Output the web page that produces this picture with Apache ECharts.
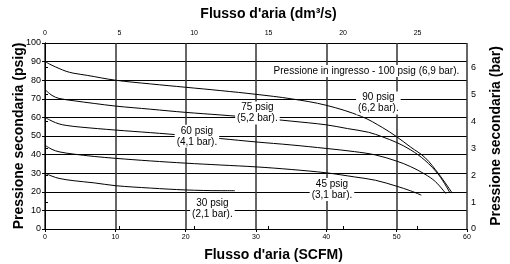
<!DOCTYPE html>
<html>
<head>
<meta charset="utf-8">
<script src="https://cdn.jsdelivr.net/npm/echarts@6/dist/echarts.min.js"></script>
<style>
  html, body { margin: 0; padding: 0; background: #fff; }
  #main { width: 510px; height: 264px; }
</style>
</head>
<body>
<div id="main"></div>
<script>
// curve data: flow in SCFM, secondary pressure in psig
var flow90  = [0, 1, 2, 3, 4, 6, 10, 15, 20, 25, 30, 35, 40, 45, 48, 50, 52, 54, 56, 57.9];
var press90 = [90, 88, 86.3, 84.8, 83.8, 82.6, 80, 78, 76.2, 74.4, 72.4, 70, 66.5, 60.5, 54.5, 49.6, 44, 38.5, 29.5, 19.3];

var flow75  = [0, 1, 2, 4, 7, 10, 15, 20, 25, 30, 35, 40, 43, 46, 48, 50, 52, 54, 56, 57.6];
var press75 = [75, 71.8, 70.2, 69, 67.5, 66.1, 64.4, 62.7, 61.3, 59.8, 58, 56, 54, 52, 49.5, 46.5, 42.5, 37, 29, 19.3];

var flow60  = [0, 1, 2, 3, 5, 10, 15, 20, 25, 30, 35, 40, 44, 47, 50, 52, 54, 55.5, 57];
var press60 = [60, 58, 56.5, 55.7, 54.8, 53.2, 51.8, 50.3, 48.6, 46.8, 45.2, 43.3, 41.6, 39.8, 36.5, 33.5, 29.5, 25.5, 19];

var flow45  = [0, 1, 2, 4, 7, 10, 15, 20, 25, 30, 35, 40, 44, 47, 50, 52, 53.5];
var press45 = [45, 42.8, 41.5, 40.3, 39, 38, 36.6, 35.4, 34.4, 33.4, 32, 30.2, 28, 26.2, 23, 20.5, 18.2];

var flow30  = [0, 1, 2, 4, 7, 10, 15, 20, 25, 27];
var press30 = [30, 28.4, 27.2, 26, 24.8, 23.3, 22, 21, 20.6, 20.6];

// curve captions and where they sit (SCFM, psig)
var captions = [
  'Pressione in ingresso - 100 psig (6,9 bar).',
  '90 psig\n(6,2 bar).',
  '75 psig\n(5,2 bar).',
  '60 psig\n(4,1 bar).',
  '45 psig\n(3,1 bar).',
  '30 psig\n(2,1 bar).'
];
var captionAt = [[45.7, 84.9], [47.4, 67.7], [30.2, 62.4], [21.6, 49.8], [40.8, 21.2], [23.8, 11.1]];

var SCFM_TO_DM3S = 0.4719;
var PSI_PER_BAR = 14.5038;

function pairs(xs, ys) {
  return xs.map(function (x, i) { return [x, ys[i]]; });
}

var captionFont = '10px "Liberation Sans"';
var measureCtx = document.createElement('canvas').getContext('2d');
measureCtx.font = captionFont;
function textWidth(s) {
  return Math.max.apply(null, s.split('\n').map(function (l) { return measureCtx.measureText(l).width; }));
}

var myChart = echarts.init(document.getElementById('main'));

var curveStyle = { color: '#000', width: 1 };
var curves = [[flow90, press90], [flow75, press75], [flow60, press60], [flow45, press45], [flow30, press30]];
var series = curves.map(function (c) {
  return {
    type: 'line',
    xAxisIndex: 0,
    yAxisIndex: 0,
    data: pairs(c[0], c[1]),
    showSymbol: false,
    smooth: 0.35,
    lineStyle: curveStyle,
    z: 3,
    silent: true
  };
});

// captions on a white box, placed through the axes
series.push({
  type: 'custom',
  xAxisIndex: 0,
  yAxisIndex: 0,
  z: 5,
  silent: true,
  data: captionAt,
  renderItem: function (params, api) {
    var i = params.dataIndex;
    var p = api.coord([api.value(0), api.value(1)]);
    var text = captions[i];
    var nLines = text.split('\n').length;
    var w = textWidth(text) + 4;
    var h = nLines * 11 + 1;
    return {
      type: 'group',
      children: [{
        type: 'rect',
        shape: { x: p[0] - w / 2, y: p[1] - h / 2, width: w, height: h },
        style: { fill: '#fff' }
      }, {
        type: 'text',
        style: {
          text: text, x: p[0], y: p[1],
          align: 'center', verticalAlign: 'middle',
          font: captionFont, lineHeight: 11, fill: '#000'
        }
      }]
    };
  }
});

var tickFont = { fontFamily: 'Liberation Sans', color: '#000' };
var nameFont = { fontFamily: 'Liberation Sans', fontWeight: 'bold', fontSize: 14, color: '#000' };

var option = {
  animation: false,
  backgroundColor: '#fff',
  grid: { left: 45, right: 43, top: 43, bottom: 35, outerBoundsMode: 'none' },
  xAxis: [{
    type: 'value',
    position: 'bottom',
    min: 0, max: 60, interval: 10,
    name: "Flusso d'aria (SCFM)",
    nameLocation: 'middle',
    nameGap: 19,
    nameTextStyle: Object.assign({ padding: [0, 0, 0, 35] }, nameFont),
    axisLine: { show: true, lineStyle: { color: '#000', width: 1 } },
    axisTick: { show: true, length: 3, lineStyle: { color: '#000' } },
    axisLabel: Object.assign({ fontSize: 7, margin: 5 }, tickFont),
    splitLine: { show: true, lineStyle: { color: '#333', width: 1.5 } }
  }, {
    type: 'value',
    position: 'top',
    min: 0, max: 60 * SCFM_TO_DM3S, interval: 5,
    name: "Flusso d'aria (dm³/s)",
    nameLocation: 'middle',
    nameGap: 22,
    nameTextStyle: Object.assign({ padding: [0, 0, 0, 25] }, nameFont),
    axisLine: { show: true, lineStyle: { color: '#000', width: 1 } },
    axisTick: { show: true, length: 3, lineStyle: { color: '#000' } },
    axisLabel: Object.assign({ fontSize: 7, margin: 6, showMaxLabel: false }, tickFont),
    splitLine: { show: false }
  }],
  yAxis: [{
    type: 'value',
    position: 'left',
    min: 0, max: 100, interval: 10,
    name: 'Pressione secondaria (psig)',
    nameLocation: 'middle',
    nameGap: 19,
    nameMoveOverlap: false,
    nameTextStyle: nameFont,
    axisLine: { show: true, lineStyle: { color: '#000', width: 1 } },
    axisTick: { show: true, length: 3, lineStyle: { color: '#000' } },
    axisLabel: Object.assign({ fontSize: 9, margin: 4 }, tickFont),
    splitLine: { show: true, lineStyle: { color: '#000', width: 1 } }
  }, {
    type: 'value',
    position: 'right',
    min: 0, max: 100 / PSI_PER_BAR, interval: 1,
    name: 'Pressione secondaria (bar)',
    nameLocation: 'middle',
    nameGap: 22,
    nameTextStyle: nameFont,
    axisLine: { show: true, lineStyle: { color: '#000', width: 1 } },
    axisTick: { show: true, length: 3, lineStyle: { color: '#000' } },
    axisLabel: Object.assign({ fontSize: 9, margin: 4, showMaxLabel: false }, tickFont),
    splitLine: { show: false }
  }],
  series: series
};

myChart.setOption(option);
</script>
</body>
</html>
